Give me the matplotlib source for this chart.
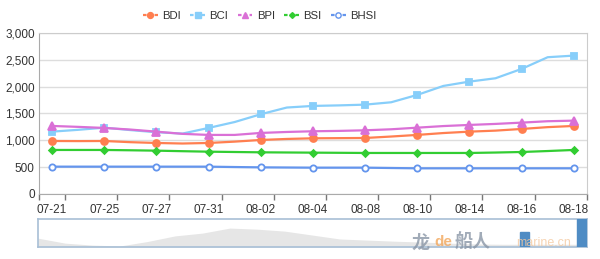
import matplotlib
matplotlib.use('Agg')
import matplotlib.pyplot as plt
from matplotlib.lines import Line2D

plt.rcParams['font.family'] = ['Liberation Sans', 'Noto Sans CJK SC', 'DejaVu Sans']

# Fechas (dias habiles) y series
fechas = ['07-21', '07-24', '07-25', '07-26', '07-27', '07-28', '07-31',
          '08-01', '08-02', '08-03', '08-04', '08-07', '08-08', '08-09',
          '08-10', '08-11', '08-14', '08-15', '08-16', '08-17', '08-18']

bdi = [987, 985, 987, 965, 950, 940, 950, 975, 1006, 1025, 1037,
       1040, 1043, 1070, 1100, 1135, 1161, 1180, 1211, 1245, 1267]
bci = [1161, 1195, 1235, 1190, 1150, 1125, 1230, 1340, 1485, 1610, 1640,
       1650, 1664, 1708, 1845, 2012, 2093, 2155, 2329, 2547, 2577]
bpi = [1267, 1250, 1230, 1200, 1161, 1120, 1100, 1100, 1137, 1155, 1168,
       1175, 1186, 1205, 1235, 1265, 1286, 1305, 1329, 1355, 1366]
bsi = [820, 820, 820, 814, 807, 797, 788, 782, 776, 773, 770,
       767, 764, 764, 764, 764, 764, 772, 782, 800, 820]
bhsi = [509, 509, 509, 509, 509, 509, 509, 502, 496, 493, 490,
        490, 490, 484, 478, 478, 478, 478, 478, 478, 478]

# Silueta de la barra de zoom (altura relativa)
silueta = [0.32, 0.14, 0.07, 0.04, 0.20, 0.40, 0.50, 0.68, 0.64, 0.57, 0.43,
           0.29, 0.25, 0.21, 0.18, 0.14, 0.11, 0.10, 0.10, 0.10, 0.10]

series = [
    ('BDI', bdi, '#ff7f50', 'o', '#ff7f50', 5),
    ('BCI', bci, '#87cefa', 's', '#87cefa', 5),
    ('BPI', bpi, '#da70d6', '^', '#da70d6', 5.5),
    ('BSI', bsi, '#32cd32', 'D', '#32cd32', 3.5),
    ('BHSI', bhsi, '#6495ed', 'o', 'white', 4.5),
]

x = list(range(len(fechas)))

fig = plt.figure(figsize=(6, 2.59), dpi=100)
ax = fig.add_axes([0.065, 0.251, 0.913, 0.622])

for nombre, valores, color, marca, relleno, tam in series:
    ax.plot(x, valores, color=color, linewidth=1.6, marker=marca, markersize=tam,
            markerfacecolor=relleno, markeredgecolor=color, markeredgewidth=1.3,
            markevery=2, zorder=3)

ax.set_xlim(-0.5, len(fechas) - 0.5)
ax.set_ylim(0, 3000)
ax.set_yticks(range(0, 3001, 500))
ax.set_yticklabels([f'{v:,}' for v in range(0, 3001, 500)])
ax.tick_params(axis='y', length=0, pad=3, labelsize=8.5, labelcolor='#333333')

ax.set_xticks(x[::2])
ax.set_xticklabels(fechas[::2])
ax.tick_params(axis='x', which='major', length=0, pad=7, labelsize=8.5, labelcolor='#333333')
ax.set_xticks([i + 0.5 for i in range(0, len(fechas), 2)] + [-0.5], minor=True)
ax.tick_params(axis='x', which='minor', length=4, width=1, color='#777777', direction='out')

ax.grid(axis='y', color='#dddddd', linewidth=1)
ax.set_axisbelow(True)
for lado in ['top', 'right']:
    ax.spines[lado].set_color('#cccccc')
for lado in ['left', 'bottom']:
    ax.spines[lado].set_color('#aaaaaa')

# Leyenda
manejadores = [Line2D([0], [0], color=c, linewidth=1.6, linestyle=(0, (1.6, 1.0)), marker=m,
                      markersize=t * 0.85, markerfacecolor=f, markeredgecolor=c)
               for n, v, c, m, f, t in series]
fig.legend(manejadores, [s[0] for s in series], loc='center', bbox_to_anchor=(0.433, 0.938),
           ncol=5, frameon=False, fontsize=8.2, handlelength=1.3, handletextpad=0.4,
           columnspacing=0.8, labelcolor='#333333')

# Barra de zoom
axz = fig.add_axes([0.063, 0.046, 0.915, 0.108])
axz.fill_between(x, silueta, 0, color='#e6e6e6', linewidth=0)
axz.set_xlim(0, len(fechas) - 1)
axz.set_ylim(0, 1)
axz.set_xticks([])
axz.set_yticks([])
for lado in axz.spines.values():
    lado.set_color('#a8bfd6')
    lado.set_linewidth(1.2)
axz.axvspan(19.65, 20, color='#4f8cc4', zorder=4)
axz.axvspan(17.55, 17.9, ymin=0.0, ymax=0.55, color='#4f8cc4', zorder=4)

# Marca de agua
fig.text(0.686, 0.045, '龙', color='#8a96a6', fontsize=13, fontweight='bold', alpha=0.8)
fig.text(0.724, 0.05, 'de', color='#f2a65a', fontsize=11, fontweight='bold', alpha=0.8)
fig.text(0.758, 0.045, '船人', color='#8a96a6', fontsize=13, fontweight='bold', alpha=0.8)
fig.text(0.86, 0.05, 'marine.cn', color='#f4c9a0', fontsize=9, alpha=0.8)

fig.savefig('out.png', dpi=100)
